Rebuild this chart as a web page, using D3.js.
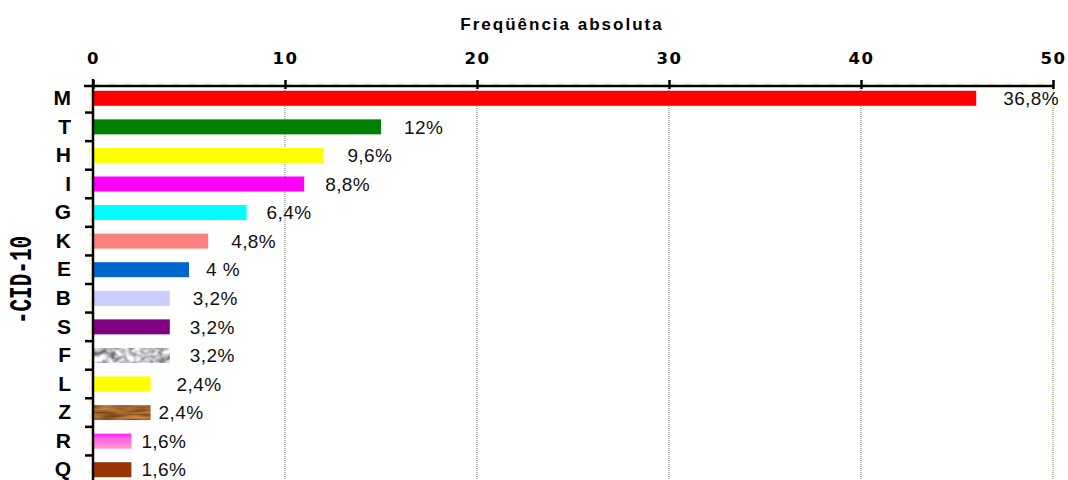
<!DOCTYPE html>
<html>
<head>
<meta charset="utf-8">
<script src="https://cdn.jsdelivr.net/npm/d3@7"></script>
<style>
  body { margin: 0; background: #fff; }
  svg { display: block; }
</style>
</head>
<body>
<div id="chart"></div>
<script>
// dados
const categorias = ["M", "T", "H", "I", "G", "K", "E", "B", "S", "F", "L", "Z", "R", "Q"];
const frequencias = [46, 15, 12, 11, 8, 6, 5, 4, 4, 4, 3, 3, 2, 2];
const percentuais = ["36,8%", "12%", "9,6%", "8,8%", "6,4%", "4,8%", "4 %", "3,2%", "3,2%", "3,2%", "2,4%", "2,4%", "1,6%", "1,6%"];
const ticksX = [0, 10, 20, 30, 40, 50];
const cores = ["#ff0000", "#008000", "#ffff00", "#ff00ff", "#00ffff", "#ff8080", "#0066cc",
  "#ccccff", "#800080", "#aaaaaa", "#ffff00", "#9c6434", "url(#rosa)", "#993300"];
// deslocamento horizontal dos rótulos (px), como no original
const ajusteRotulo = [27, 23, 24, 21, 20, 23, 17, 23, 20, 20, 26, 8, 10, 10];

const width = 1068, height = 480;
const eixoY = 86;

const svg = d3.select("#chart").append("svg")
  .attr("width", width)
  .attr("height", height);

const defs = svg.append("defs");

// textura cinza (F)
const f1 = defs.append("filter").attr("id", "fMarmore")
  .attr("x", 0).attr("y", 0).attr("width", 1).attr("height", 1)
  .attr("color-interpolation-filters", "sRGB");
f1.append("feTurbulence").attr("type", "fractalNoise")
  .attr("baseFrequency", "0.12 0.16").attr("numOctaves", 2).attr("seed", 4).attr("result", "n");
f1.append("feColorMatrix").attr("in", "n").attr("type", "matrix")
  .attr("values", "1.15 0 0 0 0.18  1.15 0 0 0 0.18  1.15 0 0 0 0.2  0 0 0 0 1").attr("result", "c");
f1.append("feComposite").attr("in", "c").attr("in2", "SourceGraphic").attr("operator", "in");

// textura madeira (Z)
const f2 = defs.append("filter").attr("id", "fMadeira")
  .attr("x", 0).attr("y", 0).attr("width", 1).attr("height", 1)
  .attr("color-interpolation-filters", "sRGB");
f2.append("feTurbulence").attr("type", "fractalNoise")
  .attr("baseFrequency", "0.04 0.35").attr("numOctaves", 2).attr("seed", 7).attr("result", "n");
f2.append("feColorMatrix").attr("in", "n").attr("type", "matrix")
  .attr("values", "0.7 0 0 0 0.28  0.5 0 0 0 0.15  0.3 0 0 0 0.03  0 0 0 0 1").attr("result", "c");
f2.append("feComposite").attr("in", "c").attr("in2", "SourceGraphic").attr("operator", "in");

// gradiente rosa (R)
const g = defs.append("linearGradient").attr("id", "rosa")
  .attr("x1", 0).attr("y1", 0).attr("x2", 0).attr("y2", 1);
g.append("stop").attr("offset", "0%").attr("stop-color", "#ff22ff");
g.append("stop").attr("offset", "35%").attr("stop-color", "#ff66e0");
g.append("stop").attr("offset", "100%").attr("stop-color", "#ff99cc");

const x = d3.scaleLinear()
  .domain([0, 50])
  .range([93, 1053]);

const y = d3.scaleBand()
  .domain(categorias)
  .range([84, 484])
  .paddingInner(0.475)
  .paddingOuter(0.2375);

// grade
svg.append("g")
  .selectAll("line")
  .data(ticksX.slice(1))
  .enter().append("line")
  .attr("x1", d => x(d)).attr("x2", d => x(d))
  .attr("y1", eixoY).attr("y2", height)
  .attr("stroke", "#777")
  .attr("stroke-width", 1)
  .attr("stroke-dasharray", "1,1");

// tracejado amarelo claro
svg.append("line")
  .attr("x1", x(50) - 1).attr("x2", x(50) - 1)
  .attr("y1", eixoY + 4).attr("y2", height)
  .attr("stroke", "#fff6b0").attr("stroke-width", 2).attr("stroke-dasharray", "4,10");
svg.append("line")
  .attr("x1", x(0)).attr("x2", x(50))
  .attr("y1", eixoY - 2).attr("y2", eixoY - 2)
  .attr("stroke", "#fff6b0").attr("stroke-width", 2).attr("stroke-dasharray", "6,10");
svg.append("line")
  .attr("x1", x(0) - 3).attr("x2", x(0) - 3)
  .attr("y1", eixoY + 6).attr("y2", height)
  .attr("stroke", "#fff6b0").attr("stroke-width", 2).attr("stroke-dasharray", "4,10");

// barras
svg.append("g")
  .selectAll("rect")
  .data(categorias)
  .enter().append("rect")
  .attr("x", x(0) + 1)
  .attr("y", d => y(d))
  .attr("width", (d, i) => x(frequencias[i]) - x(0) - 1)
  .attr("height", y.bandwidth())
  .attr("fill", (d, i) => cores[i])
  .attr("filter", d => d === "F" ? "url(#fMarmore)" : d === "Z" ? "url(#fMadeira)" : null);

// rótulos de percentual
svg.append("g")
  .selectAll("text")
  .data(categorias)
  .enter().append("text")
  .attr("x", (d, i) => x(frequencias[i]) + ajusteRotulo[i])
  .attr("y", d => y(d) + y.bandwidth() / 2)
  .attr("dy", "0.35em")
  .style("font-family", "Arial, 'Liberation Sans', sans-serif")
  .style("font-size", "19px")
  .style("letter-spacing", "0.4px")
  .attr("fill", "#111")
  .text((d, i) => percentuais[i]);

// eixo superior
const eixoX = svg.append("g")
  .attr("transform", "translate(0," + eixoY + ")")
  .call(d3.axisTop(x).tickValues(ticksX).tickSizeInner(6).tickSizeOuter(0).tickPadding(16));
eixoX.select(".domain").remove();
eixoX.selectAll(".tick line")
  .attr("y1", 3)
  .attr("stroke", "#000")
  .attr("stroke-width", 2.5);
eixoX.selectAll(".tick text")
  .style("font-family", "'DejaVu Sans', Verdana, sans-serif")
  .style("font-weight", "bold")
  .style("font-size", "16.5px")
  .style("letter-spacing", "1.5px")
  .attr("fill", "#000");

svg.append("line")
  .attr("x1", 84).attr("x2", x(50) + 1)
  .attr("y1", eixoY).attr("y2", eixoY)
  .attr("stroke", "#000").attr("stroke-width", 2.5);

// eixo esquerdo
const eixoCat = svg.append("g")
  .attr("transform", "translate(" + x(0) + ",0)")
  .call(d3.axisLeft(y).tickSize(0).tickPadding(22));
eixoCat.select(".domain").remove();
eixoCat.selectAll(".tick text")
  .style("font-family", "Arial, 'Liberation Sans', sans-serif")
  .style("font-weight", "bold")
  .style("font-size", "21px")
  .attr("fill", "#000");

svg.append("line")
  .attr("x1", x(0)).attr("x2", x(0))
  .attr("y1", 79).attr("y2", height)
  .attr("stroke", "#000").attr("stroke-width", 2.5);

// marcas entre categorias
const passo = y.step();
svg.append("g")
  .selectAll("line")
  .data(categorias)
  .enter().append("line")
  .attr("x1", x(0) - 8).attr("x2", x(0))
  .attr("y1", d => y(d) + y.bandwidth() + (passo - y.bandwidth()) / 2)
  .attr("y2", d => y(d) + y.bandwidth() + (passo - y.bandwidth()) / 2)
  .attr("stroke", "#000").attr("stroke-width", 2.5);

// títulos
svg.append("text")
  .attr("x", 562)
  .attr("y", 30)
  .attr("text-anchor", "middle")
  .style("font-family", "Arial, 'Liberation Sans', sans-serif")
  .style("font-weight", "bold")
  .style("font-size", "17px")
  .style("letter-spacing", "2px")
  .text("Freqüência absoluta");

svg.append("text")
  .attr("transform", "translate(31,280) rotate(-90) scale(1,1.45)")
  .attr("text-anchor", "middle")
  .style("font-family", "'Liberation Mono', 'Courier New', monospace")
  .style("font-weight", "bold")
  .style("font-size", "21px")
  .text("-CID-10");
</script>
</body>
</html>
